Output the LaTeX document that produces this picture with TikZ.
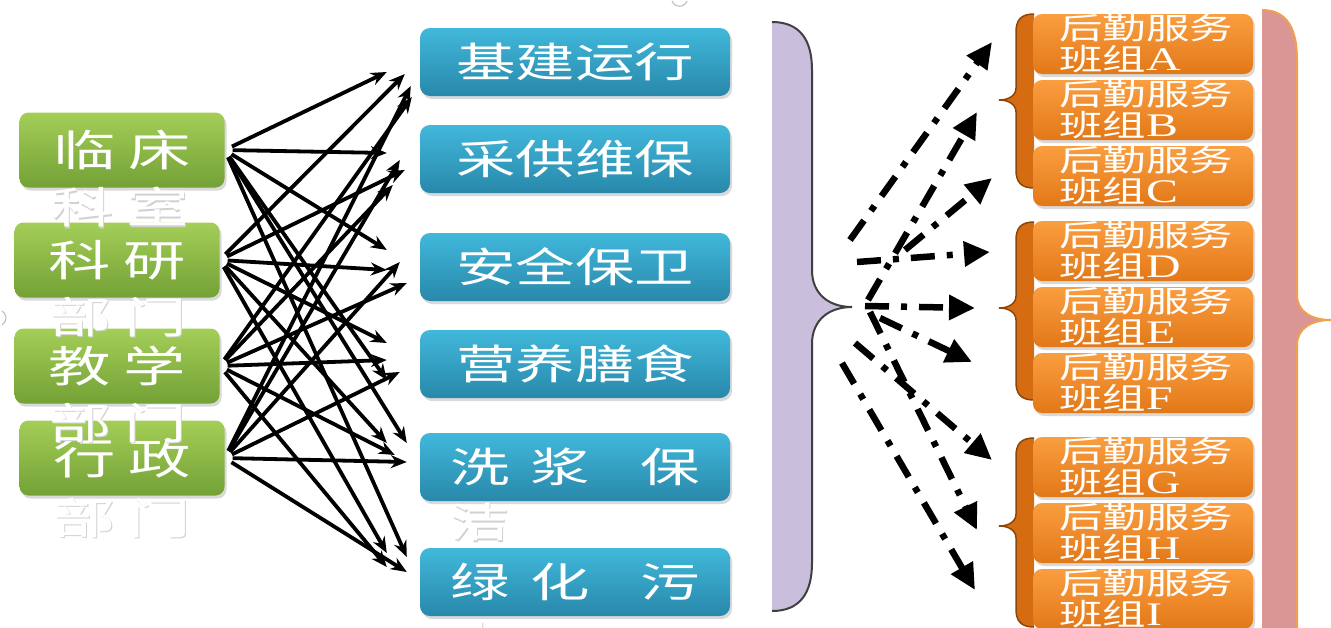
\documentclass[tikz,border=0pt]{standalone}
\usepackage{fontspec}
\setmainfont{Liberation Serif}[FakeStretch=1.45]
\newfontfamily\cjk{Noto Sans CJK SC}[FakeStretch=1.45]
\usetikzlibrary{arrows.meta}
\usetikzlibrary{shadows}

\definecolor{deptTop}{HTML}{A3CE57}
\definecolor{deptBot}{HTML}{74A136}
\definecolor{svcTop}{HTML}{41B8DB}
\definecolor{svcBot}{HTML}{2888AA}
\definecolor{teamTop}{HTML}{FA9E40}
\definecolor{teamBot}{HTML}{E27818}
\definecolor{lavender}{HTML}{C9BFDC}
\definecolor{rosefill}{HTML}{D99694}
\definecolor{roseline}{HTML}{F2A04E}
\definecolor{bracefill}{HTML}{D56C12}
\definecolor{braceline}{HTML}{8E4608}

\tikzset{
    boxshadow/.style={drop shadow={opacity=0.3, shadow xshift=2pt, shadow yshift=-3pt}},
    dept/.style={rounded corners=9pt, minimum width=205pt, minimum height=75pt,
        top color=deptTop, bottom color=deptBot, text=white, boxshadow,
        font=\cjk\fontsize{43}{46}\selectfont},
    svc/.style={rounded corners=10pt, minimum width=310pt, minimum height=68pt,
        top color=svcTop, bottom color=svcBot, text=white, boxshadow,
        font=\cjk\fontsize{41}{44}\selectfont},
    team/.style={rounded corners=9pt, minimum width=220pt, minimum height=60pt,
        inner xsep=0pt, inner ysep=0pt, text width=168pt, align=left,
        top color=teamTop, bottom color=teamBot, text=white, boxshadow,
        font=\cjk\fontsize{30}{31}\selectfont},
    ghost/.style={text=white, inner sep=0pt},
    link/.style={line width=3.8pt, shorten <=8pt, -{Stealth[length=16pt, width=13pt]}},
    dlink/.style={line width=6.5pt, dash pattern=on 24pt off 12pt on 6pt off 12pt,
        -{Triangle[length=26pt, width=24pt]}},
}

\begin{document}
\begin{tikzpicture}[x=1pt, y=-1pt]
        \clip (0,0) rectangle (1331,627);

        % Stray marks
        \draw[gray!55, line width=1pt] (672,1) arc[start angle=160, end angle=20, radius=8];
        \draw[gray!55, line width=1pt] (2,311) arc[start angle=-60, end angle=60, radius=8];

        % Braces
        \draw[fill=lavender, draw=black!75, line width=2pt]
            (772,22) .. controls (800,22) and (812,40) .. (812,70) -- (812,270)
            .. controls (812,295) and (830,307) .. (852,307)
            .. controls (830,307) and (812,319) .. (812,344) -- (812,563)
            .. controls (812,593) and (800,611) .. (772,611);
        \draw[fill=rosefill, draw=roseline, line width=2pt]
            (1262,10) .. controls (1288,10) and (1297,30) .. (1297,60) -- (1297,295)
            .. controls (1297,312) and (1312,320) .. (1331,320)
            .. controls (1312,320) and (1297,328) .. (1297,345) -- (1297,640) -- (1262,640);
        \foreach \t/\m/\b in {14/100/188, 222/308/400, 438/526/627}
            \draw[fill=bracefill, draw=braceline, line width=1.5pt]
                (1034,\t) .. controls (1021,\t) and (1016,\t+6) .. (1016,\t+18) -- (1016,\m-12)
                .. controls (1016,\m-4) and (1008,\m) .. (999,\m)
                .. controls (1008,\m) and (1016,\m+4) .. (1016,\m+12) -- (1016,\b-18)
                .. controls (1016,\b-6) and (1021,\b) .. (1034,\b);

        % Departments
        \node[dept] (g1) at (122,150) {临\hspace{13pt}床};
        \node[dept] (g2) at (117,260) {科\hspace{13pt}研};
        \node[dept] (g3) at (117,366) {教\hspace{13pt}学};
        \node[dept] (g4) at (122,458) {行\hspace{13pt}政};

        % Services
        \node[svc] (b1) at (575,62) {基建运行};
        \node[svc] (b2) at (575,159) {采供维保};
        \node[svc] (b3) at (575,267) {安全保卫};
        \node[svc] (b4) at (575,364) {营养膳食};
        \node[svc] (b5) at (575,467) {洗\hspace{21pt}浆\hspace{50pt}保};
        \node[svc] (b6) at (575,582) {绿\hspace{21pt}化\hspace{50pt}污};

        % Overflowing text
        \begin{scope}[font=\cjk\fontsize{43}{46}\selectfont]
            \node[ghost, text=black!18] at (121.5,208.5) {科\hspace{13pt}室};
            \node[ghost] (g1x) at (120,207) {科\hspace{13pt}室};
            \node[ghost, text=black!18] at (119.5,318.5) {部\hspace{13pt}门};
            \node[ghost] (g2x) at (118,317) {部\hspace{13pt}门};
            \node[ghost, text=black!18] at (119.5,424.5) {部\hspace{13pt}门};
            \node[ghost] (g3x) at (118,423) {部\hspace{13pt}门};
            \node[ghost, text=black!18] at (123.5,519.5) {部\hspace{13pt}门};
            \node[ghost] (g4x) at (122,518) {部\hspace{13pt}门};
        \end{scope}
        \begin{scope}[font=\cjk\fontsize{41}{44}\selectfont]
            \node[ghost, text=black!18] at (481.5,523.5) {洁};
            \node[ghost] (b5x) at (480,522) {洁};
            \node[ghost, text=black!18] at (481.5,641.5) {水};
            \node[ghost] (b6x) at (480,640) {水};
        \end{scope}

        % Teams
        \foreach \n/\y in {A/44, B/110, C/176, D/251, E/317, F/383, G/467, H/533, I/599}
            \node[team] (t\n) at (1143,\y) {后勤服务\\班组{\rmfamily\fontsize{33}{31}\selectfont\n}};

        % Links
        \draw[link] (g1.east) -- ([shift={(-33,10)}]b1.west);
        \draw[link] (g1.east) -- ([shift={(-33,-6)}]b2.west);
        \draw[link] (g1.east) -- ([shift={(-33,-17)}]b3.west);
        \draw[link] (g1.east) -- ([shift={(-33,16)}]b4.west);
        \draw[link] (g1.east) -- ([shift={(-13,-24)}]b5.west);
        \draw[link] (g1.east) -- ([shift={(-13,-25)}]b6.west);

        \draw[link] (g2.east) -- ([shift={(-15,12)}]b1.west);
        \draw[link] (g2.east) -- ([shift={(-15,11)}]b2.west);
        \draw[link] (g2.east) -- ([shift={(-33,3)}]b3.west);
        \draw[link] (g2.east) -- ([shift={(-33,-21)}]b4.west);
        \draw[link] (g2.east) -- ([shift={(-33,-24)}]b5.west);
        \draw[link] (g2.east) -- ([shift={(-33,-29)}]b6.west);

        \draw[link] (g3.east) -- ([shift={(-8,35)}]b1.west);
        \draw[link] (g3.east) -- ([shift={(-27,26)}]b2.west);
        \draw[link] (g3.east) -- ([shift={(-13,16)}]b3.west);
        \draw[link] (g3.east) -- ([shift={(-33,-4)}]b4.west);
        \draw[link] (g3.east) -- ([shift={(-25,-12)}]b5.west);
        \draw[link] (g3.east) -- ([shift={(-33,-15)}]b6.west);

        \draw[link] (g4.east) -- ([shift={(-9,24)}]b1.west);
        \draw[link] (g4.east) -- ([shift={(-20,1)}]b2.west);
        \draw[link] (g4.east) -- ([shift={(-20,-5)}]b3.west);
        \draw[link] (g4.east) -- ([shift={(-20,8)}]b4.west);
        \draw[link] (g4.east) -- ([shift={(-13,-5)}]b5.west);
        \draw[link] (g4.east) -- ([shift={(-13,-10)}]b6.west);

        % Dash-dot links to the teams
        \coordinate (f1) at (850,240);  \coordinate (h1) at (992,42);
        \coordinate (f2) at (868,300);  \coordinate (h2) at (977,112);
        \coordinate (f3) at (905,250);  \coordinate (h3) at (992,178);
        \coordinate (f4) at (857,262);  \coordinate (h4) at (990,252);
        \coordinate (f5) at (865,306);  \coordinate (h5) at (975,308);
        \coordinate (f6) at (880,318);  \coordinate (h6) at (972,362);
        \coordinate (f7) at (870,312);  \coordinate (h7) at (977,530);
        \coordinate (f8) at (855,343);  \coordinate (h8) at (992,460);
        \coordinate (f9) at (842,363);  \coordinate (h9) at (975,590);

        \draw[dlink] (f1) -- (h1);
        \draw[dlink] (f2) -- (h2);
        \draw[dlink] (f3) -- (h3);
        \draw[dlink] (f4) -- (h4);
        \draw[dlink] (f5) -- (h5);
        \draw[dlink] (f6) -- (h6);
        \draw[dlink] (f7) -- (h7);
        \draw[dlink] (f8) -- (h8);
        \draw[dlink] (f9) -- (h9);
\end{tikzpicture}
\end{document}
